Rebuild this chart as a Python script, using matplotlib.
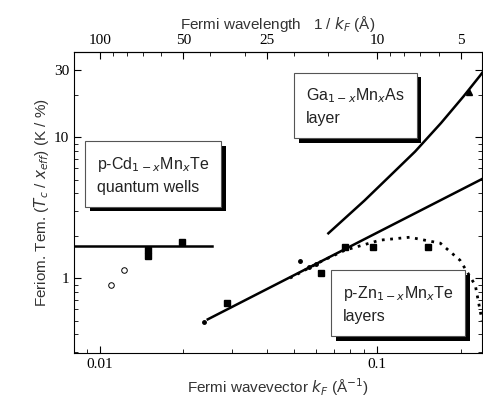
import matplotlib
matplotlib.use("Agg")
import matplotlib.pyplot as plt
import matplotlib.ticker as ticker
import matplotlib.patheffects as pe

# p-CdMnTe quantum wells
cd_line_k = [0.00806, 0.0254]
cd_line_t = [1.69, 1.69]
cd_sq_k = [0.0149, 0.0149, 0.0198]
cd_sq_t = [1.58, 1.43, 1.80]
cd_open_k = [0.0110, 0.0122]
cd_open_t = [0.89, 1.14]

# p-ZnMnTe layers
zn_line_k = [0.0245, 0.239]
zn_line_t = [0.51, 5.05]
zn_sq_k = [0.0287, 0.0627, 0.0767, 0.097, 0.152]
zn_sq_t = [0.665, 1.08, 1.66, 1.66, 1.66]
zn_dot_k = [0.0238, 0.0528, 0.057, 0.060]
zn_dot_t = [0.49, 1.32, 1.20, 1.25]
zn_curve_k = [0.0485, 0.0622, 0.0767, 0.1025, 0.131, 0.169, 0.199, 0.226, 0.239]
zn_curve_t = [1.00, 1.30, 1.58, 1.86, 1.95, 1.77, 1.34, 0.89, 0.50]

# GaMnAs layer
ga_line_k = [0.0667, 0.09, 0.11, 0.137, 0.17, 0.205, 0.235, 0.245]
ga_line_t = [2.08, 3.55, 5.2, 7.9, 12.6, 19.5, 27.3, 30.4]
ga_tri_k = [0.215]
ga_tri_t = [20.9]

top_ticks = [100, 50, 25, 10, 5]

fig = plt.figure(figsize=(4.83, 4.11), dpi=100)
ax = fig.add_axes([0.153, 0.141, 0.845, 0.732])
ax.set_xscale("log")
ax.set_yscale("log")
ax.set_xlim(0.00806, 0.239)
ax.set_ylim(0.294, 40.1)

ax.plot(cd_line_k, cd_line_t, color="black", lw=1.8)
ax.plot(cd_sq_k, cd_sq_t, "s", color="black", ms=4)
ax.plot(cd_open_k, cd_open_t, "o", mfc="white", mec="black", ms=4, mew=0.7)

ax.plot(zn_line_k, zn_line_t, color="black", lw=1.8)
ax.plot(zn_sq_k, zn_sq_t, "s", color="black", ms=4)
ax.plot(zn_dot_k, zn_dot_t, "o", color="black", ms=2.5)
ax.plot(zn_curve_k, zn_curve_t, color="black", lw=2, ls=(0, (1, 2)))

ax.plot(ga_line_k, ga_line_t, color="black", lw=1.8)
ax.plot(ga_tri_k, ga_tri_t, "^", color="black", ms=5)

ax.set_xticks([0.01, 0.1])
ax.set_xticklabels(["0.01", "0.1"])
ax.set_yticks([1, 10, 30])
ax.set_yticklabels(["1", "10", "30"])
ax.tick_params(which="both", direction="in", top=False, right=True)
ax.tick_params(which="major", length=5)
ax.tick_params(which="minor", length=3)
for lab in ax.get_xticklabels() + ax.get_yticklabels():
    lab.set_family("Liberation Serif")
    lab.set_fontsize(11)

top = ax.secondary_xaxis("top", functions=(lambda k: 1 / k, lambda w: 1 / w))
top.xaxis.set_major_locator(ticker.FixedLocator(top_ticks))
top.xaxis.set_major_formatter(ticker.FixedFormatter([str(v) for v in top_ticks]))
top.xaxis.set_minor_locator(ticker.FixedLocator([90, 80, 70, 60, 40, 30, 20, 15, 9, 8, 7, 6]))
top.xaxis.set_minor_formatter(ticker.NullFormatter())
top.tick_params(which="both", direction="in")
top.tick_params(which="major", length=5)
top.tick_params(which="minor", length=3)
for lab in top.get_xticklabels():
    lab.set_family("Liberation Serif")
    lab.set_fontsize(11)

lab_kw = dict(family="Liberation Sans", fontsize=11, color="#333333")
ax.set_xlabel("Fermi wavevector $k_F$ (Å$^{-1}$)", **lab_kw)
ax.set_ylabel("Feriom. Tem. ($T_c$ / $x_{eff}$) (K / %)", labelpad=2, **lab_kw)
top.set_xlabel("Fermi wavelength   1 / $k_F$ (Å)", **lab_kw)

box_kw = dict(boxstyle="square,pad=0.75", fc="white", ec="#555555", lw=0.8)
labels = [
    (0.194, 0.593, "p-Cd$_{1-x}$Mn$_x$Te\nquantum wells"),
    (0.689, 0.821, "Ga$_{1-x}$Mn$_x$As\nlayer"),
    (0.794, 0.163, "p-Zn$_{1-x}$Mn$_x$Te\nlayers"),
]
for x, y, s in labels:
    t = ax.text(x, y, s, transform=ax.transAxes, ha="center", va="center",
                multialignment="left", family="Liberation Sans", fontsize=11.5,
                linespacing=1.5, color="#222222", bbox=box_kw, zorder=5)
    t.get_bbox_patch().set_path_effects(
        [pe.SimplePatchShadow(offset=(3.5, -3.5), shadow_rgbFace="black", alpha=1), pe.Normal()])

fig.savefig("out.png", dpi=100)
